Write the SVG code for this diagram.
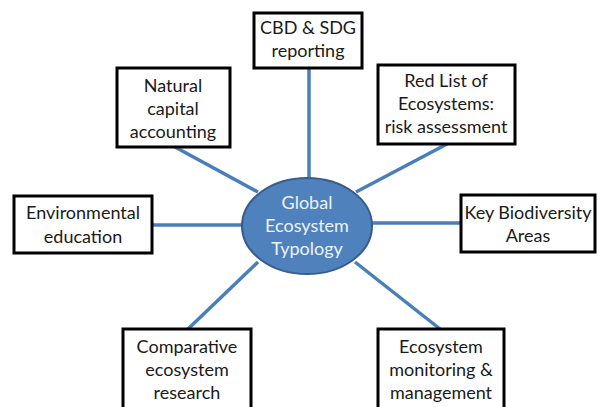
<svg xmlns="http://www.w3.org/2000/svg" width="598" height="407" viewBox="0 0 598 407">
<style>
.box{fill:#fff;stroke:#000;stroke-width:3}
.t{font-family:"Lato","Liberation Sans",sans-serif;font-size:18px;fill:#1a1a1a;text-anchor:middle}
.c{stroke:#4a7ebb;stroke-width:3.5;fill:none}
.et{font-family:"Lato","Liberation Sans",sans-serif;font-size:18px;fill:#eef3fa;text-anchor:middle}
</style>
<rect width="598" height="407" fill="#fff"/>
<g id="connectors">
<line class="c" x1="309" y1="68" x2="309" y2="180"/>
<line class="c" x1="175" y1="147" x2="258" y2="192"/>
<line class="c" x1="447" y1="144" x2="356" y2="192"/>
<line class="c" x1="152" y1="225" x2="243" y2="225"/>
<line class="c" x1="461" y1="223" x2="371" y2="223"/>
<line class="c" x1="188" y1="329" x2="258" y2="262"/>
<line class="c" x1="440" y1="329" x2="355" y2="262"/>
</g>
<g id="center">
<ellipse cx="307" cy="226" rx="65" ry="48" fill="#4f81bd" stroke="#385d8a" stroke-width="2"/>
<text class="et" x="307" y="209">Global</text>
<text class="et" x="307" y="232">Ecosystem</text>
<text class="et" x="307" y="255">Typology</text>
</g>
<g id="cbd">
<rect class="box" x="254" y="13" width="108" height="55"/>
<text class="t" x="308" y="34">CBD &amp; SDG</text>
<text class="t" x="308" y="57">reporting</text>
</g>
<g id="natural">
<rect class="box" x="117" y="68" width="113" height="79"/>
<text class="t" x="173" y="92">Natural</text>
<text class="t" x="173" y="115">capital</text>
<text class="t" x="173" y="138">accounting</text>
</g>
<g id="redlist">
<rect class="box" x="378" y="65" width="137" height="79"/>
<text class="t" x="446" y="87">Red List of</text>
<text class="t" x="446" y="110">Ecosystems:</text>
<text class="t" x="446" y="133">risk assessment</text>
</g>
<g id="env">
<rect class="box" x="14" y="196" width="138" height="57"/>
<text class="t" x="83" y="219">Environmental</text>
<text class="t" x="83" y="243">education</text>
</g>
<g id="kba">
<rect class="box" x="461" y="195" width="134" height="57"/>
<text class="t" x="528" y="219">Key Biodiversity</text>
<text class="t" x="528" y="242">Areas</text>
</g>
<g id="comparative">
<rect class="box" x="123" y="329" width="128" height="82"/>
<text class="t" x="187" y="353">Comparative</text>
<text class="t" x="187" y="376">ecosystem</text>
<text class="t" x="187" y="399">research</text>
</g>
<g id="monitoring">
<rect class="box" x="378" y="329" width="126" height="82"/>
<text class="t" x="441" y="353">Ecosystem</text>
<text class="t" x="441" y="376">monitoring &amp;</text>
<text class="t" x="441" y="399">management</text>
</g>
</svg>
